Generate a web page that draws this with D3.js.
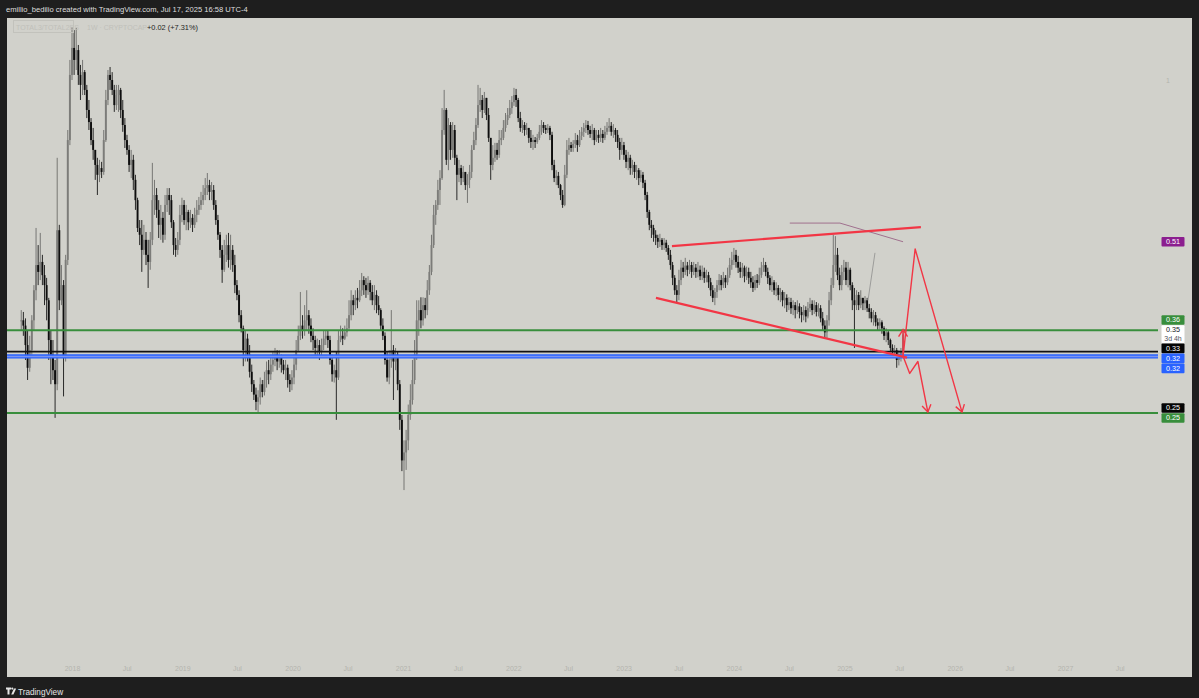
<!DOCTYPE html>
<html>
<head>
<meta charset="utf-8">
<script src="https://cdn.jsdelivr.net/npm/d3@7"></script>
<style>
  html, body { margin: 0; padding: 0; background: #1e1e1e; }
  svg { display: block; }
  text { font-family: "Liberation Sans", Arial, sans-serif; }
</style>
</head>
<body>
<svg id="chart" width="1199" height="698"></svg>
<script>
// weekly candles, first bar is the week of 2017-07-17, open = previous close
const firstWeek = '2017-07-17';
const firstOpen = 0.372;

const closes = [
  0.372,0.364,0.336,0.306,0.329, 0.372,0.421,0.467,0.454,0.473,
  0.448,0.430,0.404,0.343,0.323, 0.303,0.286,0.539,0.404,0.430,
  0.321,0.477,0.781,1.021,1.141, 1.086,1.131,1.021,0.980,1.033,
  0.960,0.884,0.841,0.781,0.750, 0.705,0.677,0.696,0.685,0.781,
  0.921,1.021,1.000,0.960,0.902, 0.940,0.960,0.884,0.831,0.781,
  0.750,0.705,0.720,0.663,0.610, 0.544,0.529,0.497,0.518,0.487,
  0.473,0.518,0.610,0.623,0.586, 0.551,0.567,0.529,0.598,0.623,
  0.610,0.557,0.507,0.497,0.518, 0.574,0.598,0.562,0.581,0.557,
  0.567,0.551,0.574,0.586,0.598, 0.610,0.623,0.641,0.649,0.631,
  0.636,0.598,0.562,0.529,0.497, 0.458,0.487,0.507,0.477,0.497,
  0.467,0.430,0.413,0.380,0.360, 0.329,0.345,0.323,0.301,0.286,
  0.274,0.266,0.271,0.286,0.277, 0.291,0.303,0.298,0.310,0.316,
  0.323,0.314,0.319,0.310,0.303, 0.306,0.291,0.286,0.294,0.310,
  0.329,0.349,0.364,0.357,0.372, 0.380,0.364,0.349,0.343,0.332,
  0.336,0.327,0.336,0.345,0.349, 0.343,0.316,0.298,0.303,0.294,
  0.343,0.349,0.345,0.354,0.360, 0.380,0.404,0.396,0.408,0.404,
  0.421,0.439,0.430,0.421,0.434, 0.418,0.404,0.413,0.396,0.388,
  0.364,0.349,0.316,0.294,0.316, 0.329,0.314,0.323,0.286,0.247,
  0.209,0.216,0.227,0.252,0.268, 0.291,0.323,0.372,0.388,0.372,
  0.396,0.388,0.421,0.454,0.507, 0.574,0.598,0.636,0.668,0.814,
  0.884,0.720,0.831,0.750,0.814, 0.726,0.677,0.696,0.668,0.685,
  0.649,0.663,0.685,0.750,0.781, 0.831,0.902,0.921,0.884,0.929,
  0.866,0.788,0.705,0.726,0.750, 0.735,0.781,0.788,0.821,0.848,
  0.866,0.891,0.913,0.940,0.921, 0.855,0.821,0.831,0.814,0.821,
  0.788,0.775,0.781,0.775,0.788, 0.808,0.831,0.821,0.814,0.821,
  0.798,0.705,0.668,0.674,0.649, 0.623,0.598,0.677,0.750,0.765,
  0.756,0.769,0.781,0.765,0.795, 0.808,0.821,0.831,0.814,0.801,
  0.814,0.781,0.798,0.788,0.801, 0.788,0.808,0.821,0.828,0.808,
  0.814,0.798,0.775,0.750,0.765, 0.735,0.714,0.726,0.696,0.705,
  0.685,0.690,0.668,0.677,0.655, 0.623,0.581,0.551,0.544,0.529,
  0.522,0.514,0.518,0.507,0.512, 0.501,0.487,0.467,0.443,0.421,
  0.413,0.439,0.462,0.454,0.466, 0.458,0.467,0.454,0.462,0.454,
  0.458,0.446,0.454,0.443,0.448, 0.435,0.421,0.408,0.418,0.430,
  0.439,0.430,0.443,0.435,0.448, 0.467,0.477,0.487,0.473,0.462,
  0.454,0.462,0.446,0.454,0.443, 0.435,0.425,0.439,0.434,0.448,
  0.462,0.467,0.454,0.443,0.430, 0.435,0.421,0.425,0.413,0.418,
  0.404,0.408,0.396,0.401,0.391, 0.396,0.388,0.394,0.385,0.380,
  0.388,0.378,0.391,0.398,0.388, 0.396,0.385,0.391,0.375,0.364,
  0.354,0.372,0.404,0.430,0.467, 0.487,0.448,0.430,0.454,0.462,
  0.439,0.458,0.430,0.404,0.396, 0.413,0.396,0.408,0.399,0.404,
  0.391,0.385,0.375,0.380,0.369, 0.364,0.369,0.360,0.349,0.354,
  0.343,0.332,0.327,0.329,0.316, 0.323,0.327,0.351
];

const highs = [
  0.388,0.385,0.375,0.357,0.349, 0.380,0.430,0.544,0.507,0.533,
  0.487,0.467,0.443,0.408,0.357, 0.343,0.316,0.726,0.551,0.467,
  0.439,0.487,0.814,1.086,1.244, 1.228,1.239,1.155,1.064,1.086,
  1.042,0.980,0.921,0.855,0.821, 0.750,0.726,0.720,0.714,0.814,
  0.960,1.042,1.055,1.033,0.980, 0.980,0.980,0.968,0.921,0.855,
  0.798,0.765,0.750,0.735,0.677, 0.616,0.562,0.562,0.551,0.535,
  0.518,0.535,0.711,0.663,0.641, 0.610,0.598,0.581,0.623,0.641,
  0.641,0.623,0.562,0.522,0.535, 0.598,0.616,0.610,0.598,0.586,
  0.586,0.576,0.591,0.610,0.618, 0.631,0.649,0.668,0.682,0.663,
  0.657,0.649,0.610,0.574,0.535, 0.507,0.518,0.529,0.533,0.529,
  0.507,0.487,0.439,0.421,0.388, 0.364,0.357,0.352,0.336,0.310,
  0.291,0.282,0.279,0.294,0.291, 0.301,0.314,0.316,0.323,0.327,
  0.332,0.329,0.329,0.323,0.316, 0.316,0.310,0.298,0.303,0.323,
  0.343,0.364,0.418,0.380,0.396, 0.421,0.388,0.375,0.360,0.349,
  0.345,0.343,0.345,0.357,0.357, 0.357,0.349,0.323,0.310,0.327,
  0.357,0.364,0.360,0.364,0.375, 0.404,0.421,0.413,0.421,0.425,
  0.439,0.452,0.446,0.443,0.446, 0.439,0.430,0.430,0.421,0.411,
  0.391,0.375,0.354,0.327,0.329, 0.388,0.336,0.332,0.327,0.291,
  0.252,0.227,0.237,0.263,0.286, 0.316,0.343,0.404,0.404,0.409,
  0.409,0.408,0.439,0.467,0.529, 0.598,0.610,0.663,0.690,0.891,
  0.960,0.891,0.855,0.841,0.841, 0.831,0.735,0.720,0.705,0.702,
  0.685,0.679,0.705,0.765,0.808, 0.855,0.980,0.968,0.940,0.952,
  0.921,0.891,0.788,0.765,0.772, 0.772,0.814,0.814,0.848,0.873,
  0.891,0.921,0.936,0.968,0.964, 0.929,0.877,0.848,0.841,0.838,
  0.821,0.814,0.798,0.791,0.801, 0.831,0.848,0.841,0.831,0.834,
  0.828,0.808,0.720,0.690,0.685, 0.652,0.636,0.705,0.781,0.788,
  0.775,0.781,0.804,0.798,0.814, 0.824,0.838,0.848,0.845,0.828,
  0.834,0.821,0.814,0.814,0.821, 0.814,0.828,0.841,0.855,0.841,
  0.834,0.821,0.814,0.788,0.788, 0.775,0.750,0.744,0.735,0.720,
  0.714,0.705,0.696,0.690,0.685, 0.663,0.631,0.586,0.562,0.551,
  0.539,0.529,0.531,0.522,0.522, 0.518,0.507,0.497,0.473,0.448,
  0.430,0.458,0.477,0.473,0.481, 0.473,0.477,0.473,0.473,0.469,
  0.473,0.466,0.466,0.462,0.458, 0.454,0.443,0.430,0.425,0.439,
  0.450,0.448,0.454,0.448,0.462, 0.481,0.493,0.501,0.497,0.485,
  0.473,0.471,0.466,0.464,0.462, 0.454,0.446,0.448,0.450,0.462,
  0.473,0.481,0.473,0.462,0.448, 0.446,0.439,0.435,0.430,0.425,
  0.421,0.418,0.414,0.409,0.408, 0.404,0.401,0.404,0.399,0.393,
  0.396,0.394,0.401,0.408,0.404, 0.404,0.401,0.399,0.396,0.385,
  0.372,0.380,0.418,0.443,0.529, 0.526,0.501,0.462,0.467,0.477,
  0.473,0.473,0.462,0.435,0.425, 0.421,0.418,0.421,0.408,0.411,
  0.408,0.398,0.391,0.388,0.385, 0.375,0.375,0.372,0.363,0.360,
  0.357,0.345,0.337,0.336,0.332, 0.329,0.332,0.357
];

const lows = [
  0.357,0.349,0.316,0.291,0.301, 0.323,0.357,0.404,0.430,0.439,
  0.430,0.396,0.372,0.316,0.286, 0.291,0.249,0.279,0.388,0.396,
  0.272,0.314,0.467,0.765,1.000, 1.021,1.042,0.980,0.921,0.940,
  0.940,0.855,0.814,0.765,0.720, 0.663,0.623,0.657,0.668,0.677,
  0.775,0.902,0.960,0.940,0.877, 0.884,0.877,0.855,0.808,0.756,
  0.735,0.685,0.668,0.636,0.586, 0.535,0.507,0.454,0.487,0.467,
  0.425,0.458,0.507,0.574,0.567, 0.522,0.518,0.512,0.518,0.581,
  0.574,0.544,0.487,0.483,0.487, 0.507,0.557,0.551,0.539,0.539,
  0.544,0.535,0.544,0.557,0.574, 0.586,0.598,0.610,0.623,0.610,
  0.610,0.586,0.551,0.518,0.481, 0.434,0.454,0.473,0.462,0.458,
  0.454,0.416,0.404,0.369,0.354, 0.308,0.314,0.314,0.294,0.277,
  0.268,0.257,0.254,0.263,0.271, 0.273,0.282,0.286,0.291,0.301,
  0.308,0.303,0.306,0.300,0.298, 0.291,0.282,0.277,0.279,0.286,
  0.303,0.327,0.343,0.345,0.349, 0.357,0.352,0.340,0.329,0.323,
  0.321,0.316,0.322,0.329,0.336, 0.332,0.310,0.289,0.288,0.247,
  0.291,0.340,0.336,0.343,0.348, 0.357,0.372,0.380,0.388,0.391,
  0.401,0.411,0.413,0.408,0.413, 0.404,0.396,0.388,0.383,0.380,
  0.357,0.343,0.310,0.289,0.286, 0.306,0.268,0.303,0.279,0.237,
  0.200,0.185,0.201,0.218,0.247, 0.263,0.286,0.316,0.349,0.360,
  0.364,0.375,0.380,0.413,0.448, 0.501,0.551,0.586,0.598,0.663,
  0.798,0.705,0.690,0.720,0.726, 0.705,0.610,0.657,0.649,0.657,
  0.636,0.603,0.641,0.668,0.750, 0.765,0.821,0.877,0.855,0.873,
  0.848,0.775,0.663,0.690,0.714, 0.720,0.726,0.765,0.781,0.808,
  0.831,0.855,0.870,0.899,0.895, 0.841,0.808,0.804,0.795,0.798,
  0.772,0.756,0.750,0.756,0.769, 0.781,0.798,0.804,0.801,0.804,
  0.781,0.690,0.657,0.649,0.641, 0.610,0.591,0.595,0.668,0.735,
  0.744,0.744,0.756,0.744,0.759, 0.781,0.791,0.804,0.798,0.788,
  0.781,0.765,0.775,0.772,0.775, 0.772,0.781,0.798,0.808,0.795,
  0.788,0.775,0.756,0.720,0.735, 0.720,0.696,0.690,0.677,0.677,
  0.668,0.663,0.649,0.657,0.641, 0.610,0.567,0.539,0.522,0.514,
  0.507,0.501,0.503,0.497,0.497, 0.493,0.477,0.458,0.430,0.413,
  0.401,0.404,0.430,0.443,0.448, 0.446,0.450,0.443,0.448,0.443,
  0.444,0.439,0.439,0.434,0.435, 0.425,0.411,0.401,0.396,0.408,
  0.421,0.421,0.425,0.425,0.430, 0.443,0.458,0.467,0.462,0.452,
  0.443,0.443,0.435,0.439,0.432, 0.425,0.418,0.421,0.425,0.430,
  0.443,0.454,0.446,0.432,0.421, 0.418,0.413,0.411,0.404,0.401,
  0.394,0.391,0.385,0.388,0.382, 0.380,0.375,0.382,0.375,0.369,
  0.372,0.369,0.375,0.385,0.380, 0.382,0.378,0.378,0.369,0.357,
  0.345,0.346,0.364,0.396,0.425, 0.454,0.439,0.421,0.421,0.439,
  0.430,0.426,0.421,0.388,0.332, 0.388,0.388,0.391,0.388,0.388,
  0.385,0.375,0.369,0.364,0.363, 0.357,0.357,0.352,0.343,0.340,
  0.336,0.327,0.319,0.321,0.306, 0.309,0.314,0.321
];

// horizontal levels
const greenLevels = [0.357, 0.254];
const blackLevel = 0.327;
const blueBand = [0.3225, 0.3186];

// price tags on the right scale
const priceTags = [
  {value: 0.514, label: '0.51', kind: 'purple'},
  {value: 0.357, label: '0.36', kind: 'green'},
  {value: 0.351, label: '0.35', kind: 'last', sub: '3d 4h'},
  {value: 0.327, label: '0.33', kind: 'black'},
  {value: 0.3225, label: '0.32', kind: 'blue'},
  {value: 0.3186, label: '0.32', kind: 'blue'},
  {value: 0.254, label: '0.25', kind: 'black'},
  {value: 0.254, label: '0.25', kind: 'green'}
];
const priceTicks = [1];

// drawings, [date, price]
const upperTrend = [['2023-06-10', 0.505], ['2025-09-11', 0.546]];
const lowerTrend = [['2023-04-18', 0.408], ['2025-07-27', 0.319]];
const thinPath = [['2024-07-04', 0.555], ['2024-12-17', 0.555], ['2025-07-14', 0.514]];
const grayLine = [['2025-03-20', 0.404], ['2025-04-12', 0.491]];
const bigProjection = [['2025-07-14', 0.321], ['2025-08-23', 0.499], ['2026-01-25', 0.255]];
const zigProjection = [['2025-07-14', 0.321], ['2025-08-05', 0.299], ['2025-09-01', 0.314], ['2025-10-04', 0.255]];
const upArrow = [['2025-07-14', 0.323], ['2025-07-14', 0.358]];

const headerText = 'emillio_bedilio created with TradingView.com, Jul 17, 2025 16:58 UTC-4';
const symbolText = 'TOTAL3/TOTAL2ES';
const intervalText = '1W · CRYPTOCAP';
const changeText = '+0.02 (+7.31%)';

const W = 1199, H = 698;
const plot = {left: 7, right: 1158, top: 18, bottom: 655};
const panelRight = 1192, panelBottom = 677;

const parse = d3.timeParse('%Y-%m-%d');
const x = d3.scaleTime()
  .domain([new Date(2018, 0, 1), new Date(2027, 0, 1)])
  .range([72, 1065]);
const y = d3.scaleLog()
  .domain([0.25, 1])
  .range([416.9, 80]);

const svg = d3.select('#chart');
const defs = svg.append('defs');
defs.append('clipPath').attr('id', 'plotClip')
  .append('rect')
    .attr('x', plot.left).attr('y', plot.top)
    .attr('width', plot.right - plot.left)
    .attr('height', plot.bottom - plot.top);

defs.append('marker')
    .attr('id', 'arrowRed')
    .attr('viewBox', '-10 -6 12 12')
    .attr('refX', 0).attr('refY', 0)
    .attr('markerWidth', 12).attr('markerHeight', 12)
    .attr('markerUnits', 'userSpaceOnUse')
    .attr('orient', 'auto')
  .append('path')
    .attr('d', 'M-7,-4.5L0,0L-7,4.5')
    .attr('fill', 'none')
    .attr('stroke', '#f23645')
    .attr('stroke-width', 1.4);

// frame
svg.append('rect').attr('width', W).attr('height', H).attr('fill', '#1e1e1e');
svg.append('rect')
  .attr('x', plot.left).attr('y', plot.top)
  .attr('width', panelRight - plot.left)
  .attr('height', panelBottom - plot.top)
  .attr('fill', '#d1d1cb');

// header
svg.append('text')
  .attr('x', 6).attr('y', 12)
  .attr('font-size', 7.6)
  .attr('fill', '#dedede')
  .text(headerText);

// candles
const start = parse(firstWeek);
const candles = closes.map((c, i) => {
  const open = i ? closes[i - 1] : firstOpen;
  return {
    date: d3.timeWeek.offset(start, i),
    open: open,
    close: c,
    high: Math.max(highs[i], open, c),
    low: Math.min(lows[i], open, c)
  };
});

const plotG = svg.append('g').attr('clip-path', 'url(#plotClip)');
const candleG = plotG.append('g');
const bodyW = 1.9;

candleG.selectAll('line.wick')
  .data(candles)
  .join('line')
    .attr('class', 'wick')
    .attr('x1', d => x(d.date)).attr('x2', d => x(d.date))
    .attr('y1', d => y(d.high)).attr('y2', d => y(d.low))
    .attr('stroke', d => d.close >= d.open ? '#6c6c6a' : '#161616')
    .attr('stroke-width', 0.9);

candleG.selectAll('rect.body')
  .data(candles)
  .join('rect')
    .attr('class', 'body')
    .attr('x', d => x(d.date) - bodyW / 2)
    .attr('width', bodyW)
    .attr('y', d => y(Math.max(d.open, d.close)))
    .attr('height', d => Math.max(1, Math.abs(y(d.open) - y(d.close))))
    .attr('fill', d => d.close >= d.open ? '#7c7c79' : '#0e0e0e');

// horizontal levels
const levelG = plotG.append('g');
levelG.append('rect')
  .attr('x', plot.left).attr('width', plot.right - plot.left)
  .attr('y', y(blueBand[0]))
  .attr('height', y(blueBand[1]) - y(blueBand[0]))
  .attr('fill', '#7d95ee');
levelG.selectAll('line.blue')
  .data(blueBand)
  .join('line')
    .attr('class', 'blue')
    .attr('x1', plot.left).attr('x2', plot.right)
    .attr('y1', d => y(d)).attr('y2', d => y(d))
    .attr('stroke', '#2962ff')
    .attr('stroke-width', 1.3);
levelG.append('line')
  .attr('x1', plot.left).attr('x2', plot.right)
  .attr('y1', y(blackLevel)).attr('y2', y(blackLevel))
  .attr('stroke', '#111')
  .attr('stroke-width', 1.6);
levelG.selectAll('line.green')
  .data(greenLevels)
  .join('line')
    .attr('class', 'green')
    .attr('x1', plot.left).attr('x2', plot.right)
    .attr('y1', d => y(d)).attr('y2', d => y(d))
    .attr('stroke', '#388e3c')
    .attr('stroke-width', 2);

// drawings
const line = d3.line()
  .x(d => x(parse(d[0])))
  .y(d => y(d[1]));
const drawG = plotG.append('g').attr('fill', 'none').attr('stroke-linejoin', 'round');

drawG.append('path').attr('d', line(thinPath))
  .attr('stroke', '#a0708e').attr('stroke-width', 1);
drawG.append('path').attr('d', line(grayLine))
  .attr('stroke', '#9c9c9a').attr('stroke-width', 1);
drawG.selectAll('path.trend')
  .data([upperTrend, lowerTrend])
  .join('path')
    .attr('class', 'trend')
    .attr('d', line)
    .attr('stroke', '#f23645')
    .attr('stroke-width', 2.2);
drawG.selectAll('path.proj')
  .data([bigProjection, zigProjection, upArrow])
  .join('path')
    .attr('class', 'proj')
    .attr('d', line)
    .attr('stroke', '#f23645')
    .attr('stroke-width', 1.4)
    .attr('marker-end', 'url(#arrowRed)');

// legend
const legendG = svg.append('g');
legendG.append('rect')
  .attr('x', 13.5).attr('y', 20.5).attr('width', 60).attr('height', 12)
  .attr('fill', 'none').attr('stroke', '#c2c2bc');
legendG.append('text')
  .attr('x', 16).attr('y', 29.5)
  .attr('font-size', 7).attr('fill', '#c0c0ba')
  .text(symbolText);
legendG.append('text')
  .attr('x', 87).attr('y', 29.5)
  .attr('font-size', 7).attr('fill', '#c0c0ba')
  .text(intervalText);
legendG.append('text')
  .attr('x', 147).attr('y', 29.5)
  .attr('font-size', 7.4).attr('fill', '#1e1e1e')
  .text(changeText);

// time axis
const timeTicks = d3.timeMonth.every(6).range(new Date(2018, 0, 1), new Date(2027, 7, 1));
const xAxis = d3.axisBottom(x)
  .tickValues(timeTicks)
  .tickSize(0)
  .tickPadding(0)
  .tickFormat(d => d.getMonth() === 0 ? d3.timeFormat('%Y')(d) : 'Jul');
const xAxisG = svg.append('g')
  .attr('transform', 'translate(0,' + 666 + ')')
  .call(xAxis);
xAxisG.select('.domain').remove();
xAxisG.selectAll('text')
  .attr('font-size', 7)
  .attr('font-family', '"Liberation Sans", Arial, sans-serif')
  .attr('fill', '#b4b4ae');

// price axis
const yAxis = d3.axisRight(y)
  .tickValues(priceTicks)
  .tickSize(0)
  .tickPadding(0)
  .tickFormat(d3.format('d'));
const yAxisG = svg.append('g')
  .attr('transform', 'translate(1166,0)')
  .call(yAxis);
yAxisG.select('.domain').remove();
yAxisG.selectAll('text')
  .attr('font-size', 7)
  .attr('font-family', '"Liberation Sans", Arial, sans-serif')
  .attr('fill', '#b4b4ae');

// price tags, pushed apart where they overlap
const tagStyle = {
  purple: {fill: '#8b1e8f', text: '#ffffff'},
  green: {fill: '#388e3c', text: '#ffffff'},
  last: {fill: '#ffffff', text: '#131722'},
  black: {fill: '#050505', text: '#ffffff'},
  blue: {fill: '#2962ff', text: '#ffffff'}
};
const tagH = 9.6, tagW = 23, tagX = 1161.5;
const tags = priceTags.map(d => Object.assign({}, d, {h: d.sub ? 18 : tagH, cy: y(d.value)}));
for (let k = 0; k < 200; k++) {
  for (let i = 1; i < tags.length; i++) {
    const a = tags[i - 1], b = tags[i];
    const need = (a.h + b.h) / 2 + 0.4;
    const gap = b.cy - a.cy;
    if (gap < need) {
      const s = (need - gap) / 2;
      a.cy -= s;
      b.cy += s;
    }
  }
}
const tagG = svg.append('g')
  .selectAll('g')
  .data(tags)
  .join('g')
    .attr('transform', d => 'translate(' + tagX + ',' + (d.cy - d.h / 2) + ')');
tagG.append('rect')
  .attr('width', tagW)
  .attr('height', d => d.h)
  .attr('rx', 1)
  .attr('fill', d => tagStyle[d.kind].fill);
tagG.append('text')
  .attr('x', tagW / 2)
  .attr('y', 7.2)
  .attr('text-anchor', 'middle')
  .attr('font-size', 7.2)
  .attr('fill', d => tagStyle[d.kind].text)
  .text(d => d.label);
tagG.filter(d => d.sub)
  .append('text')
    .attr('x', tagW / 2)
    .attr('y', 15.5)
    .attr('text-anchor', 'middle')
    .attr('font-size', 7)
    .attr('fill', '#50535e')
    .text(d => d.sub);

// footer logo
const logo = svg.append('g').attr('fill', '#e6e6e6');
logo.append('path').attr('d', 'M6,687.5h5v2h-1.5v5h-2v-5h-1.5z');
logo.append('circle').attr('cx', 12.3).attr('cy', 688.6).attr('r', 1.1);
logo.append('path').attr('d', 'M11.2,694.5l2.8-6h2.2l-2.8,6z');
logo.append('text')
  .attr('x', 18).attr('y', 694.5)
  .attr('font-size', 8.2)
  .text('TradingView');
</script>
</body>
</html>
